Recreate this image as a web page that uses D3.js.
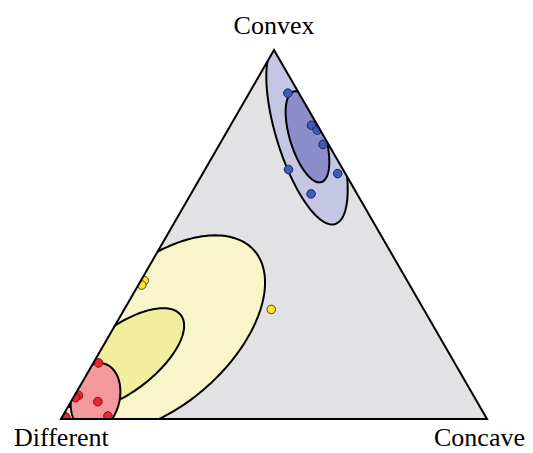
<!DOCTYPE html>
<html><head><meta charset="utf-8">
<script src="https://cdn.jsdelivr.net/npm/d3@7"></script>
<style>body{margin:0;background:#fff}</style>
</head><body>
<div id="chart"></div>
<script>
// corners: left, right, top
const cornerLabels = ["Different", "Concave", "Convex"]

// compositions as [different, concave, convex]
const bluePoints = [
    [0.026, 0.091, 0.883], [0.014, 0.190, 0.796], [0.007, 0.210, 0.783],
    [0.013, 0.243, 0.744], [0.018, 0.317, 0.665], [0.128, 0.196, 0.676],
    [0.108, 0.282, 0.610]
]
const yellowPoints = [
    [0.617, 0.008, 0.375], [0.629, 0.008, 0.363], [0.358, 0.345, 0.297]
]
const redPoints = [
    [0.836, 0.012, 0.152], [0.927, 0.009, 0.064], [0.937, 0.005, 0.058],
    [0.890, 0.063, 0.047], [0.886, 0.106, 0.008], [0.986, 0.009, 0.005]
]

// confidence ellipses: centre composition, semi-axes (side = 1), tilt in degrees
const ellipseNames = ["blueOuter", "blueInner", "yellowOuter", "yellowInner", "red"]
const ellipseCentres = [
    [0.035, 0.190, 0.775], [0.039, 0.196, 0.764], [0.649, 0.120, 0.231],
    [0.773, 0.065, 0.162], [0.890, 0.052, 0.058]
]
const ellipseMajor = [0.2235, 0.1112, 0.2928, 0.1704, 0.0822]
const ellipseMinor = [0.0722, 0.0413, 0.1640, 0.0759, 0.0566]
const ellipseTilt = [107.2, 107.1, 42.1, 37.4, 76.1]

const ellipseFill = {
    blueOuter: "#c5c5e4", blueInner: "#8c8ecb",
    yellowOuter: "#f8f6c9", yellowInner: "#f2ee9e", red: "#f3999c"
}

const width = 533, height = 453
const h = Math.sqrt(3) / 2

const x = d3.scaleLinear().domain([0, 1]).range([61, 487])
const y = d3.scaleLinear().domain([0, h]).range([419, 50])

function toXY(c) {
    const t = c[0] + c[1] + c[2]
    const conc = c[1] / t, conv = c[2] / t
    return [conc + conv / 2, conv * h]
}

function project(c) {
    const [u, v] = toXY(c)
    return [x(u), y(v)]
}

function ellipseRing(i) {
    const [u0, v0] = toXY(ellipseCentres[i])
    const a = ellipseMajor[i], b = ellipseMinor[i]
    const th = ellipseTilt[i] * Math.PI / 180
    return d3.range(0, 360, 2).map(deg => {
        const t = deg * Math.PI / 180
        const du = a * Math.cos(t), dv = b * Math.sin(t)
        return [u0 + du * Math.cos(th) - dv * Math.sin(th), v0 + du * Math.sin(th) + dv * Math.cos(th)]
    })
}

const svg = d3.select("#chart").append("svg").attr("width", width).attr("height", height)

const corners = [[1, 0, 0], [0, 1, 0], [0, 0, 1]]
const triLine = d3.line().curve(d3.curveLinearClosed)
const triPath = triLine(corners.map(project))

svg.append("clipPath").attr("id", "tri").append("path").attr("d", triPath)

svg.append("path").attr("d", triPath).attr("fill", "#e2e2e4")

const ringLine = d3.line().x(p => x(p[0])).y(p => y(p[1])).curve(d3.curveLinearClosed)

const plot = svg.append("g").attr("clip-path", "url(#tri)")

plot.selectAll("path.ell")
    .data(ellipseNames)
    .join("path")
    .attr("class", "ell")
    .attr("d", (d, i) => ringLine(ellipseRing(i)))
    .attr("fill", d => ellipseFill[d])
    .attr("stroke", "#000")
    .attr("stroke-width", 2)

const series = [
    {pts: bluePoints, fill: "#3d5cb2", stroke: "#1b2a6b"},
    {pts: yellowPoints, fill: "#f4e62a", stroke: "#4a4630"},
    {pts: redPoints, fill: "#e8282c", stroke: "#7a1414"}
]

series.forEach(s => {
    plot.append("g")
        .selectAll("circle")
        .data(s.pts)
        .join("circle")
        .attr("cx", d => project(d)[0])
        .attr("cy", d => project(d)[1])
        .attr("r", 4.3)
        .attr("fill", s.fill)
        .attr("stroke", s.stroke)
        .attr("stroke-width", 1)
})

svg.append("path").attr("d", triPath).attr("fill", "none").attr("stroke", "#000").attr("stroke-width", 2)
    .attr("stroke-linejoin", "miter")

// label placement relative to each corner
const labelAnchor = ["start", "end", "middle"]
const labelShift = [[-47, 27], [38, 27], [0, -16]]
svg.selectAll("text.corner")
    .data(cornerLabels)
    .join("text")
    .attr("class", "corner")
    .attr("x", (d, i) => project(corners[i])[0] + labelShift[i][0])
    .attr("y", (d, i) => project(corners[i])[1] + labelShift[i][1])
    .attr("text-anchor", (d, i) => labelAnchor[i])
    .attr("font-family", "'Liberation Serif', 'Times New Roman', serif")
    .attr("font-size", 26)
    .attr("fill", "#000")
    .text(d => d)
</script>
</body></html>
